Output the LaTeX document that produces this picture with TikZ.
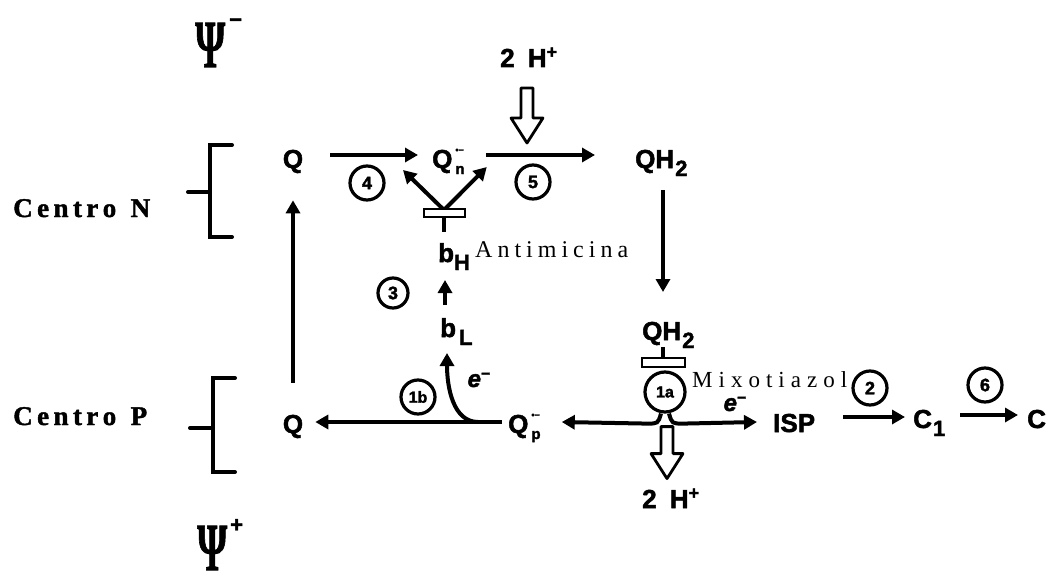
\documentclass[tikz,border=0pt]{standalone}
\usepackage{fontspec}
\usepackage{graphicx}
\setmainfont{Liberation Serif}
\setsansfont{Liberation Sans}
\newfontfamily\heavysans{Liberation Sans}[BoldFeatures={FakeBold=2}, BoldItalicFeatures={FakeBold=2}]
\newfontfamily\heavyserif{Liberation Serif}[BoldFeatures={FakeBold=1.5}]
\usetikzlibrary{arrows.meta}
\newcommand\chemfont{\heavysans\bfseries\fontsize{26}{28}\selectfont}
\newcommand\lowsub[1]{\raisebox{-8pt}{\fontsize{22}{22}\selectfont #1}}
\newcommand\radq[2]{\hspace{3pt}\makebox[0pt][l]{\raisebox{15pt}{\fontsize{9}{9}\selectfont #1}}\raisebox{-6pt}{\fontsize{15}{15}\selectfont #2}}
\newcommand\hplus{\raisebox{9pt}{\fontsize{18}{18}\selectfont +}}
\newcommand\spreadtext[2]{\makebox[#1][s]{#2}}
\newcommand\bigpsi{\resizebox*{30pt}{44pt}{\heavyserif\bfseries Ψ}}
\newcommand\esup{\raisebox{8pt}{\fontsize{16}{16}\selectfont\upshape −}}
\begin{document}
\begin{tikzpicture}[x=1pt,y=-1pt,
  lab/.style={font=\chemfont, inner sep=0pt},
  num/.style={circle, draw, line width=3.2pt, minimum size=34pt, inner sep=0pt,
              font=\heavysans\bfseries\fontsize{18}{18}\selectfont},
  flow/.style={line width=4pt, -{Triangle[length=13pt,width=14pt]}},
  brk/.style={line width=4pt, line cap=round},
  cent/.style={font=\heavyserif\bfseries\fontsize{27}{29}\selectfont, inner sep=0pt},
  inhib/.style={font=\rmfamily\fontsize{24}{26}\selectfont, inner sep=0pt},
  elab/.style={font=\heavysans\bfseries\itshape\fontsize{24}{24}\selectfont, inner sep=0pt},
  hollow/.style={line width=2.8pt, fill=white, line join=round},
  pics/hollowdown/.style={code={
    \draw[hollow] (-6,0) -- (-6,{#1-25}) -- (-16,{#1-25}) -- (0,#1)
      -- (16,{#1-25}) -- (6,{#1-25}) -- (6,0) -- cycle;}}
]
\useasboundingbox (0,0) rectangle (1050,575);

% potentials
\node[inner sep=0pt, anchor=base west] (psiN) at (195,67) {\bigpsi\hspace{4pt}\raisebox{40pt}{\fontsize{22}{22}\heavysans\bfseries −}};
\node[inner sep=0pt, anchor=base west] (psiP) at (197,570) {\bigpsi\hspace{3pt}\raisebox{38pt}{\fontsize{22}{22}\heavysans\bfseries +}};

% centres
\node[cent, anchor=base west] (cN) at (13,217) {\spreadtext{137pt}{C\hfil e\hfil n\hfil t\hfil r\hfil o\hspace{10pt}\hfil N}};
\node[cent, anchor=base west] (cP) at (13,425) {\spreadtext{134pt}{C\hfil e\hfil n\hfil t\hfil r\hfil o\hspace{10pt}\hfil P}};
\draw[brk] (232,145) -- (210,145) -- (210,237) -- (232,237);
\draw[brk] (188,192) -- (210,192);
\draw[brk] (235,378) -- (213,378) -- (213,472) -- (235,472);
\draw[brk] (190,428) -- (213,428);

% species
\node[lab, anchor=base] (QN) at (293,168) {Q};
\node[lab, anchor=base west] (Qn) at (432,168) {Q\radq{•−}{n}};
\node[lab, anchor=base west] (QH2t) at (635,168) {QH\hspace{1pt}\lowsub{2}};
\node[lab, anchor=base west] (bH) at (438,262) {b\lowsub{H}};
\node[lab, anchor=base west] (bL) at (440,337) {b\hspace{3pt}\lowsub{L}};
\node[lab, anchor=base west] (QH2b) at (642,340) {QH\hspace{1pt}\lowsub{2}};
\node[lab, anchor=base] (QP) at (293,433) {Q};
\node[lab, anchor=base west] (Qp) at (508,433) {Q\radq{•−}{p}};
\node[lab, anchor=base west] (ISP) at (773,432) {ISP};
\node[lab, anchor=base west] (C1) at (913,428) {C\hspace{1pt}\lowsub{1}};
\node[lab, anchor=base west] (C) at (1027,428) {C};
\node[lab, anchor=base west] (Htop) at (500,67) {2\hspace{6pt} H\hplus};
\node[lab, anchor=base west] (Hbot) at (642,508) {2\hspace{6pt} H\hplus};

% inhibitors
\node[inhib, anchor=base west] (antimicina) at (475,257) {\spreadtext{153pt}{A\hfil n\hfil t\hfil i\hfil m\hfil i\hfil c\hfil i\hfil n\hfil a}};
\node[inhib, anchor=base west, font=\rmfamily\fontsize{23}{25}\selectfont] (mixo) at (692,387) {\spreadtext{155pt}{M\hfil i\hfil x\hfil o\hfil t\hfil i\hfil a\hfil z\hfil o\hfil l}};

% step numbers
\node[num] (n4) at (367,183) {4};
\node[num] (n5) at (533,182) {5};
\node[num, minimum size=30pt] (n3) at (393,293) {3};
\node[num] (n1b) at (418,397) {\fontsize{16}{16}\selectfont 1b};
\node[num, minimum size=40pt] (n1a) at (665,392) {\fontsize{16}{16}\selectfont 1a};
\node[num] (n2) at (870,388) {2};
\node[num] (n6) at (985,385) {6};

% electrons
\node[elab] (eL) at (479,380) {e\esup};
\node[elab] (eR) at (735,404) {e\esup};

% connectors
\draw[flow, shorten <=27pt, shorten >=14pt] ([yshift=13pt]QN.base east) -- ([yshift=13pt]Qn.base west);
\draw[flow, shorten <=21pt, shorten >=40pt] ([yshift=13pt]Qn.base east) -- ([yshift=13pt]QH2t.base west);
\draw[flow, shorten <=32pt, shorten >=27pt] (QP.north) -- (QN.south);
\draw[flow] ([xshift=28pt,yshift=-22pt]QH2t.base west) -- ([xshift=21pt,yshift=48pt]QH2b.base west);
\draw[flow] ([xshift=5pt,yshift=32pt]bL.base west) -- ([xshift=7pt,yshift=-18pt]bH.base west);

\coordinate (antim) at (444,210);
\draw[flow] (antim) -- ([xshift=-29pt,yshift=-2pt]Qn.base west);
\draw[flow] (antim) -- ([xshift=22pt,yshift=1pt]Qn.base east);
\draw[line width=4pt] (antim) ++(0,6) -- ++(0,16);
\draw[line width=2.8pt, fill=white] (424,209) rectangle (465,217);

\draw[flow] ([xshift=-6pt,yshift=11pt]Qp.base west) -- ([xshift=12pt,yshift=11pt]QP.base east);
\draw[flow] ([xshift=-30pt,yshift=11pt]Qp.base west) .. controls ([xshift=-55pt,yshift=11pt]Qp.base west) and ([xshift=7pt,yshift=-50pt]bL.base west) .. ([xshift=7pt,yshift=-16pt]bL.base west);

\draw[flow] ([xshift=-4pt]n1a.south) .. controls ([xshift=-7pt,yshift=-10pt]n1a.south) .. ([xshift=-18pt,yshift=-10pt]n1a.south) -- ([xshift=21pt,yshift=11pt]Qp.base east);
\draw[flow] ([xshift=4pt]n1a.south) .. controls ([xshift=7pt,yshift=-10pt]n1a.south) .. ([xshift=18pt,yshift=-10pt]n1a.south) -- ([xshift=-16pt,yshift=10pt]ISP.base west);

\draw[line width=4pt] (663,347) -- (663,358);
\draw[line width=2.8pt, fill=white] (642,358) rectangle (685,367);

\draw[flow] ([xshift=-70pt,yshift=11pt]C1.base west) -- ([xshift=-8pt,yshift=11pt]C1.base west);
\draw[flow] ([xshift=-67pt,yshift=13pt]C.base west) -- ([xshift=-9pt,yshift=13pt]C.base west);

\pic at ([xshift=27pt,yshift=-21pt]Htop.base west) {hollowdown=55};
\pic at ([xshift=2pt,yshift=-13pt]n1a.south) {hollowdown=52};
\end{tikzpicture}
\end{document}
